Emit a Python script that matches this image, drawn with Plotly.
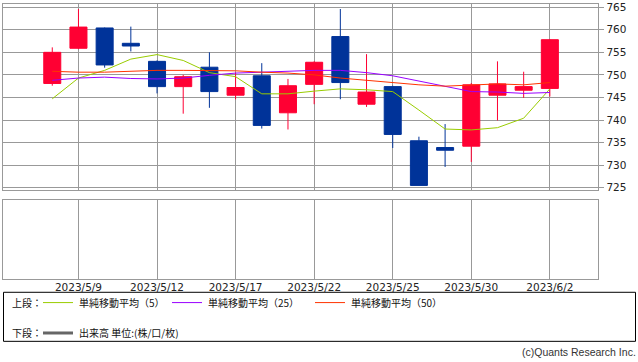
import plotly.graph_objects as go

# ---- data ----
dates = ["2023/5/8", "2023/5/9", "2023/5/10", "2023/5/11", "2023/5/12",
         "2023/5/15", "2023/5/16", "2023/5/17", "2023/5/18", "2023/5/19",
         "2023/5/22", "2023/5/23", "2023/5/24", "2023/5/25", "2023/5/26",
         "2023/5/29", "2023/5/30", "2023/5/31", "2023/6/1", "2023/6/2"]
open_ = [748.1, 755.9, 760.4, 757.0, 753.0, 747.4, 751.7, 745.5, 749.8, 741.6,
         747.9, 758.5, 743.5, 747.4, 735.4, 733.9, 734.2, 745.5, 746.6, 747.0]
close = [755.0, 760.6, 752.2, 756.4, 747.4, 749.6, 746.3, 747.2, 738.8, 747.6,
         752.8, 748.3, 746.2, 736.8, 725.5, 733.3, 747.8, 748.0, 747.4, 757.8]
high = [756.1, 764.6, 760.5, 760.7, 753.2, 750.0, 755.0, 750.5, 752.6, 749.1,
        753.0, 764.6, 754.6, 747.6, 736.3, 739.1, 748.2, 753.0, 750.7, 757.9]
low = [747.6, 755.7, 751.6, 755.2, 745.9, 741.4, 742.7, 744.6, 738.1, 737.9,
       743.5, 744.6, 742.9, 733.8, 725.5, 729.6, 730.7, 739.9, 744.9, 745.2]
ma5 = [744.7, 749.3, 751.0, 753.5, 754.5, 753.2, 750.5, 749.6, 745.8, 745.8,
       746.4, 746.9, 746.7, 746.3, 742.2, 738.0, 737.8, 738.3, 740.4, 746.9]
ma25 = [748.8, 749.3, 749.5, 749.2, 749.1, 749.3, 749.9, 750.4, 750.6, 750.8,
        751.0, 751.0, 750.5, 749.8, 748.6, 747.4, 746.3, 746.2, 745.9, 746.1]
ma50 = [750.8, 750.6, 750.6, 750.8, 751.0, 751.0, 751.0, 750.9, 750.6, 750.4,
        750.0, 749.3, 748.8, 748.3, 747.8, 747.5, 747.8, 748.0, 747.8, 748.3]
tick_dates = ["2023/5/9", "2023/5/12", "2023/5/17", "2023/5/22",
              "2023/5/25", "2023/5/30", "2023/6/2"]
price_ticks = [725, 730, 735, 740, 745, 750, 755, 760, 765]
ma_labels = ["単純移動平均（5）", "単純移動平均（25）", "単純移動平均（50）"]
vol_label = "出来高 単位:(株/口/枚)"
upper_label = "上段："
lower_label = "下段："
credit = "(c)Quants Research Inc."

W, H = 638, 362
GRID = "#999999"
RED = "#ff0033"
BLUE = "#003399"
MA_COLORS = ["#99cc00", "#9900ff", "#ff3300"]


def px(x):
    return x / W


def py(y):
    return 1 - y / H


fig = go.Figure()
fig.add_trace(go.Candlestick(
    x=dates, open=open_, high=high, low=low, close=close,
    increasing=dict(line=dict(color=RED, width=1), fillcolor=RED),
    decreasing=dict(line=dict(color=BLUE, width=1), fillcolor=BLUE),
    whiskerwidth=0, showlegend=False, xaxis="x", yaxis="y"))
for vals, col in zip([ma5, ma25, ma50], MA_COLORS):
    fig.add_trace(go.Scatter(x=dates, y=vals, mode="lines",
                             line=dict(color=col, width=1),
                             showlegend=False, xaxis="x", yaxis="y"))
fig.add_trace(go.Scatter(x=dates, y=[None] * len(dates), mode="lines",
                         showlegend=False, xaxis="x2", yaxis="y2"))

xdom = [px(3.3), px(598.3)]
xr = [-1.87, 20.85]
common_x = dict(type="category", categoryorder="array", categoryarray=dates,
                range=xr, domain=xdom, tickvals=tick_dates,
                showgrid=True, gridcolor=GRID, gridwidth=1,
                showline=True, linecolor=GRID, linewidth=1, mirror=True,
                zeroline=False, fixedrange=True)

fig.update_layout(
    width=W, height=H, autosize=False,
    margin=dict(l=0, r=0, t=0, b=0, pad=0),
    paper_bgcolor="white", plot_bgcolor="white",
    boxgap=0.35, boxgroupgap=0,
    font=dict(family="DejaVu Sans", color="#222222"),
    xaxis=dict(common_x, anchor="y", showticklabels=False, ticks="",
               rangeslider=dict(visible=False)),
    yaxis=dict(domain=[py(190.3), py(0.8)], range=[724.57, 765.76],
               side="right", tickvals=price_ticks, ticks="outside",
               ticklen=5, tickcolor=GRID, ticklabeloverflow="allow",
               tickfont=dict(size=10.5, color="#222222"),
               showgrid=True, gridcolor=GRID, gridwidth=1,
               showline=True, linecolor=GRID, linewidth=1, mirror=True,
               zeroline=False, anchor="x", fixedrange=True),
    xaxis2=dict(common_x, anchor="y2", showticklabels=True, ticks="",
                ticklabeloverflow="allow", ticklabelstandoff=-1,
                tickfont=dict(size=10.5, color="#222222")),
    yaxis2=dict(domain=[py(281), py(201.3)], range=[0, 1],
                showticklabels=False, ticks="", showgrid=False,
                showline=True, linecolor=GRID, linewidth=1, mirror=True,
                zeroline=False, anchor="x2", fixedrange=True),
)

shapes = [dict(type="rect", xref="paper", yref="paper",
               x0=px(3.5), x1=px(635.5), y0=py(345), y1=py(295),
               line=dict(color="black", width=1))]
annots = []
jp = "Noto Sans CJK JP"
row1 = py(305.5)
row2 = py(336.5)
annots.append(dict(x=px(11), y=row1, text=upper_label))
annots.append(dict(x=px(11), y=row2, text=lower_label))
for (x0, x1, tx), lab, col in zip([(43, 73, 78), (172, 202, 207), (315, 345, 350)],
                                   ma_labels, MA_COLORS):
    shapes.append(dict(type="line", xref="paper", yref="paper",
                       x0=px(x0), x1=px(x1), y0=row1, y1=row1,
                       line=dict(color=col, width=1)))
    annots.append(dict(x=px(tx), y=row1, text=lab))
shapes.append(dict(type="line", xref="paper", yref="paper",
                   x0=px(43), x1=px(73), y0=row2, y1=row2,
                   line=dict(color="#666666", width=3)))
annots.append(dict(x=px(78), y=row2, text=vol_label))
annots = [dict(a, xref="paper", yref="paper", xanchor="left", yanchor="middle",
               showarrow=False, borderpad=0,
               font=dict(family=jp, size=10, color="#111111"))
          for a in annots]
annots.append(dict(x=px(637), y=py(356), xref="paper", yref="paper",
                   xanchor="right", yanchor="middle", showarrow=False,
                   borderpad=0, text=credit,
                   font=dict(family="Liberation Sans", size=10.5, color="#333333")))
fig.update_layout(shapes=shapes, annotations=annots)

fig.write_html("out.html", config={"displayModeBar": False},
               post_script="document.body.style.margin='0';")
